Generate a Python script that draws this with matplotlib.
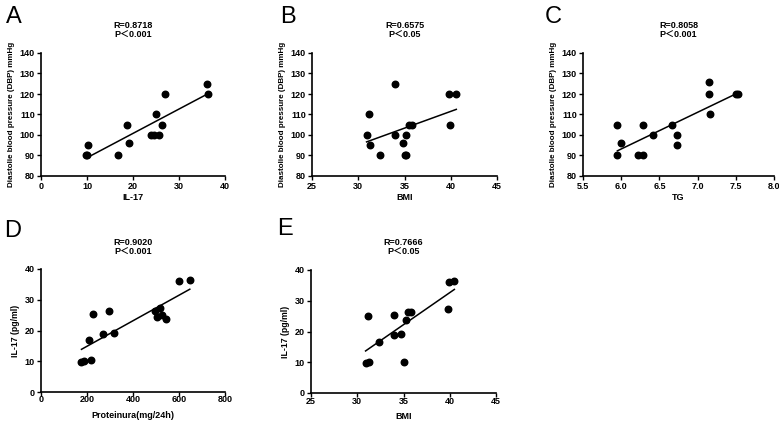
import numpy as np
import matplotlib
matplotlib.use("Agg")
import matplotlib.pyplot as plt

plt.rcParams['font.family'] = ['Liberation Sans', 'Noto Sans CJK SC', 'DejaVu Sans']

# ---- data ----
a_il17 = [9.8, 10.1, 10.2, 16.7, 18.8, 19.2, 23.9, 24.6, 25.0, 25.6, 26.2, 27.0, 36.1, 36.3]
a_dbp = [90, 90, 95, 90, 105, 96, 100, 100, 110, 100, 105, 120, 125, 120]

b_bmi = [30.9, 31.2, 31.3, 32.3, 34.0, 34.0, 34.8, 35.0, 35.2, 35.2, 35.5, 35.8, 39.8, 39.9, 40.6]
b_dbp = [100, 110, 95, 90, 125, 100, 96, 90, 90, 100, 105, 105, 120, 105, 120]

c_tg = [5.95, 5.95, 6.0, 6.22, 6.29, 6.29, 6.42, 6.67, 6.73, 6.73, 7.15, 7.15, 7.16, 7.5, 7.53]
c_dbp = [90, 105, 96, 90, 105, 90, 100, 105, 100, 95, 126, 120, 110, 120, 120]

d_prot = [176, 188, 217, 209, 227, 269, 297, 319, 497, 503, 518, 524, 543, 598, 647]
d_il17 = [9.6, 10.1, 10.3, 16.9, 25.5, 18.9, 26.5, 19.2, 26.5, 24.4, 27.2, 25.1, 23.9, 36.1, 36.3]

e_bmi = [30.9, 31.3, 31.2, 32.3, 34.0, 34.0, 34.7, 35.0, 35.3, 35.5, 35.8, 39.8, 39.9, 40.5]
e_il17 = [9.7, 10.1, 25.2, 16.7, 18.9, 25.5, 19.1, 10.1, 23.9, 26.3, 26.3, 27.2, 36.2, 36.3]

panels = [
    dict(letter="A", x=a_il17, y=a_dbp, r="R=0.8718", p="P\uff1c0.001",
         xlabel="IL-17", ylabel="Diastolie blood pressure (DBP) mmHg", ylfs=5.8,
         xlim=(0, 40), xticks=[0, 10, 20, 30, 40], xfmt="{:.0f}",
         ylim=(80, 140), yticks=[80, 90, 100, 110, 120, 130, 140],
         box=(41, 225, 53, 176), letterpos=(6, 17), ttl=(25, 35), xpad=1.5, xlp=1.5),
    dict(letter="B", x=b_bmi, y=b_dbp, r="R=0.6575", p="P\uff1c0.05",
         xlabel="BMI", ylabel="Diastolie blood pressure (DBP) mmHg", ylfs=5.8,
         xlim=(25, 45), xticks=[25, 30, 35, 40, 45], xfmt="{:.0f}",
         ylim=(80, 140), yticks=[80, 90, 100, 110, 120, 130, 140],
         box=(312, 497, 53, 176), letterpos=(280, 17), ttl=(25, 35), xpad=1.5, xlp=1.5),
    dict(letter="C", x=c_tg, y=c_dbp, r="R=0.8058", p="P\uff1c0.001",
         xlabel="TG", ylabel="Diastolie blood pressure (DBP) mmHg", ylfs=5.8,
         xlim=(5.5, 8.0), xticks=[5.5, 6.0, 6.5, 7.0, 7.5, 8.0], xfmt="{:.1f}",
         ylim=(80, 140), yticks=[80, 90, 100, 110, 120, 130, 140],
         box=(583, 774, 53, 176), letterpos=(545, 17), ttl=(25, 35), xpad=1.5, xlp=1.5),
    dict(letter="D", x=d_prot, y=d_il17, r="R=0.9020", p="P\uff1c0.001",
         xlabel="Proteinura(mg/24h)", ylabel="IL-17 (pg/ml)", ylfs=6.3,
         xlim=(0, 800), xticks=[0, 200, 400, 600, 800], xfmt="{:.0f}",
         ylim=(0, 40), yticks=[0, 10, 20, 30, 40],
         box=(41, 225, 269, 392), letterpos=(4, 231), ttl=(242, 252), xpad=-1.0, xlp=5),
    dict(letter="E", x=e_bmi, y=e_il17, r="R=0.7666", p="P\uff1c0.05",
         xlabel="BMI", ylabel="IL-17 (pg/ml)", ylfs=6.3,
         xlim=(25, 45), xticks=[25, 30, 35, 40, 45], xfmt="{:.0f}",
         ylim=(0, 40), yticks=[0, 10, 20, 30, 40],
         box=(311, 496, 270, 393), letterpos=(277, 229), ttl=(242, 252), xpad=0.0, xlp=4),
]

W, H = 779, 425
fig = plt.figure(figsize=(W / 100, H / 100), dpi=100)

for pn in panels:
    l, r, t, b = pn["box"]
    ax = fig.add_axes([l / W, 1 - b / H, (r - l) / W, (b - t) / H])
    x = np.array(pn["x"], dtype=float)
    y = np.array(pn["y"], dtype=float)
    ax.scatter(x, y, s=22, color="black", zorder=3, clip_on=False)
    k, c0 = np.polyfit(x, y, 1)
    xs = np.array([x.min(), x.max()])
    ax.plot(xs, k * xs + c0, color="black", lw=1.1)
    ax.set_xlim(*pn["xlim"])
    ax.set_ylim(*pn["ylim"])
    ax.set_xticks(pn["xticks"])
    ax.set_xticklabels([pn["xfmt"].format(v) for v in pn["xticks"]])
    ax.set_yticks(pn["yticks"])
    for s in ("top", "right"):
        ax.spines[s].set_visible(False)
    for s in ("left", "bottom"):
        ax.spines[s].set_linewidth(1.2)
    ax.tick_params(direction="out", length=3, width=1.0, labelsize=6.5)
    ax.tick_params(axis="y", pad=1.5)
    ax.tick_params(axis="x", pad=pn["xpad"])
    for lab in ax.get_xticklabels() + ax.get_yticklabels():
        lab.set_fontweight("bold")
    ax.set_xlabel(pn["xlabel"], fontsize=6.5, fontweight="bold", labelpad=pn["xlp"])
    ax.set_ylabel(pn["ylabel"], fontsize=pn["ylfs"], fontweight="bold", labelpad=3)
    cx = (l + r) / 2 / W
    fig.text(cx, 1 - pn["ttl"][0] / H, pn["r"], ha="center", va="center",
             fontsize=6.5, fontweight="bold")
    fig.text(cx, 1 - pn["ttl"][1] / H, pn["p"], ha="center", va="center",
             fontsize=6.5, fontweight="bold")
    lx, ly = pn["letterpos"]
    fig.text(lx / W, 1 - ly / H, pn["letter"], ha="left", va="center",
             fontsize=17)

fig.savefig("out.png", dpi=100)
